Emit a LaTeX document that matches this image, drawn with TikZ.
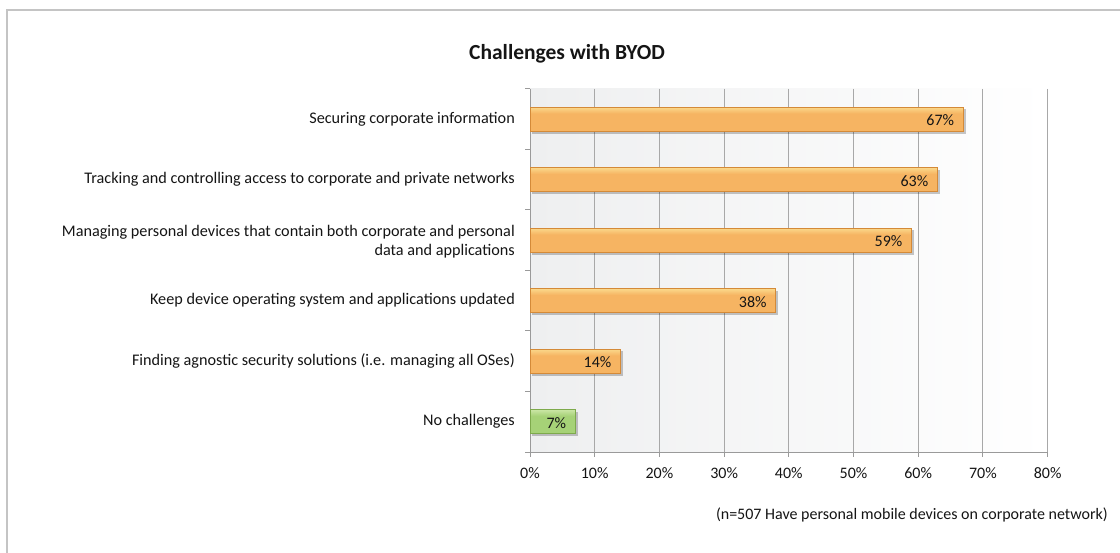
\documentclass[tikz,border=0pt]{standalone}
\usepackage{fontspec}
\setmainfont{Carlito}
\definecolor{frame}{HTML}{C4C4C4}
\definecolor{grid}{HTML}{A8A8A8}
\definecolor{axisc}{HTML}{9A9A9A}
\definecolor{plotl}{HTML}{EEEFF0}
\definecolor{otop}{HTML}{FDEBA0}
\definecolor{omid}{HTML}{F6B462}
\definecolor{obot}{HTML}{E39743}
\definecolor{oedge}{HTML}{D48A38}
\definecolor{gtop}{HTML}{DDF0BC}
\definecolor{gmid}{HTML}{A6D277}
\definecolor{gbot}{HTML}{8DBE58}
\definecolor{gedge}{HTML}{7EAA4C}
\definecolor{txt}{HTML}{151515}
\pgfdeclareverticalshading{orangebar}{100bp}{color(0bp)=(obot); color(15bp)=(omid); color(62bp)=(omid); color(82bp)=(otop); color(100bp)=(otop)}
\pgfdeclareverticalshading{greenbar}{100bp}{color(0bp)=(gbot); color(15bp)=(gmid); color(62bp)=(gmid); color(82bp)=(gtop); color(100bp)=(gtop)}
\tikzset{
  catlabel/.style={anchor=east, align=right, font=\fontsize{16.2}{19}\selectfont, text=txt, inner sep=0pt},
  vallabel/.style={anchor=east, font=\fontsize{16}{18}\selectfont, text=txt, inner sep=0pt},
  ticklabel/.style={anchor=center, font=\fontsize{16}{18}\selectfont, text=txt, inner sep=0pt},
  gridline/.style={draw=grid, line width=1pt},
  axisline/.style={draw=axisc, line width=1pt},
  barshadow/.style={fill=black, fill opacity=0.22},
}
\begin{document}
\begin{tikzpicture}[x=1pt,y=-1pt]
\useasboundingbox (0,0) rectangle (1120,553);
\fill[white] (0,0) rectangle (1120,553);
% frame
\draw[frame, line width=2pt] (7,553) -- (7,10.5) -- (1120,10.5);
% title
\node[font=\bfseries\fontsize{21.5}{24}\selectfont, text=txt] (title) at (567,54) {Challenges with BYOD};
% plot background
\shade[left color=plotl, right color=white] (530,89) rectangle (1048,452);
% gridlines
\foreach \i in {1,...,8} {
  \draw[gridline] ({530+\i*64.7},89) -- ({530+\i*64.7},452);
}
% axes
\draw[axisline] (530,89) -- (530,457);
\draw[axisline] (525,452) -- (1048,452);
\foreach \k in {0,...,5} {
  \draw[axisline] (525,{89+\k*60.5}) -- (530,{89+\k*60.5});
}
\foreach \i in {0,...,8} {
  \draw[axisline] ({530+\i*64.7},452) -- ({530+\i*64.7},457);
  \pgfmathtruncatemacro{\pc}{\i*10}
  \node[ticklabel] (tick\i) at ({530+\i*64.7},473) {\pc\%};
}
% bars
\foreach \v/\r/\sh/\ed in {67/1/orangebar/oedge, 63/2/orangebar/oedge, 59/3/orangebar/oedge, 38/4/orangebar/oedge, 14/5/orangebar/oedge, 7/6/greenbar/gedge} {
  \pgfmathsetmacro{\c}{89+60.5*(\r-0.5)}
  \pgfmathsetmacro{\xe}{530+\v*6.4675}
  \fill[barshadow] (532,{\c-10}) rectangle ({\xe+2.5},{\c+14.5});
  \shade[shading=\sh, draw=\ed, line width=0.6pt] (530,{\c-12}) rectangle (\xe,{\c+12});
  \node[vallabel] (val\r) at ({\xe-9},{\c+1}) {\v\%};
}
% category labels
\node[catlabel] (cat1) at (515,119.25) {Securing corporate information};
\node[catlabel] (cat2) at (515,179.75) {Tracking and controlling access to corporate and private networks};
\node[catlabel] (cat3) at (515,241.25) {Managing personal devices that contain both corporate and personal\\data and applications};
\node[catlabel] (cat4) at (515,300.75) {Keep device operating system and applications updated};
\node[catlabel] (cat5) at (515,361.25) {Finding agnostic security solutions (i.e. managing all OSes)};
\node[catlabel] (cat6) at (515,421.75) {No challenges};
% footnote
\node[anchor=east, font=\fontsize{16}{18}\selectfont, text=txt, inner sep=0pt] (note) at (1108,515) {(n=507 Have personal mobile devices on corporate network)};
\end{tikzpicture}
\end{document}
